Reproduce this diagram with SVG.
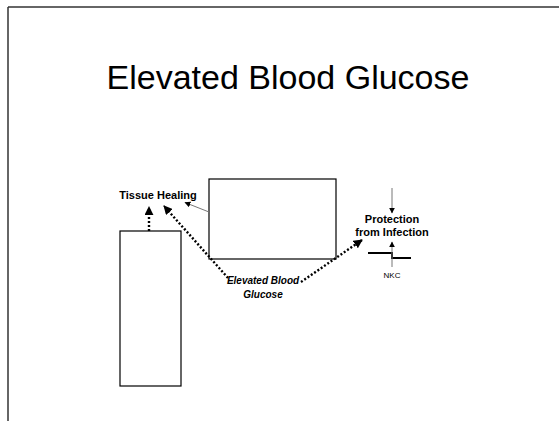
<svg xmlns="http://www.w3.org/2000/svg" width="559" height="421" viewBox="0 0 559 421">
<style>
.frame{stroke:#333;stroke-width:1.5;fill:none}
.box{fill:#fff;stroke:#000;stroke-width:1.2}
.dot{stroke:#000;stroke-width:2.4;stroke-dasharray:2 2;fill:none}
.thin{stroke:#777;stroke-width:1;fill:none}
.step{stroke:#000;stroke-width:2;fill:none}
.title{font-family:"Liberation Sans",Arial,sans-serif;font-size:34px;fill:#000}
.lbl{font-family:"Liberation Sans",Arial,sans-serif;font-size:11px;font-weight:bold;fill:#000}
.ebg{font-family:"Liberation Sans",Arial,sans-serif;font-size:10px;font-weight:bold;font-style:italic;fill:#000}
.small{font-family:"Liberation Sans",Arial,sans-serif;font-size:8px;fill:#000}
</style>
<defs>
<marker id="big" viewBox="0 0 10 10" refX="9" refY="5" markerWidth="9" markerHeight="9" markerUnits="userSpaceOnUse" orient="auto"><path d="M0,0 L10,5 L0,10 z" fill="#000"/></marker>
<marker id="sm" viewBox="0 0 10 10" refX="9" refY="5" markerWidth="6" markerHeight="6" markerUnits="userSpaceOnUse" orient="auto"><path d="M0,0 L10,5 L0,10 z" fill="#000"/></marker>
</defs>
<rect width="559" height="421" fill="#fff"/>
<g id="frame">
<line class="frame" x1="8" y1="7" x2="559" y2="7"/>
<line class="frame" x1="8" y1="7" x2="8" y2="421"/>
</g>
<g id="title"><text class="title" x="288" y="89" text-anchor="middle">Elevated Blood Glucose</text></g>
<g id="left-box"><rect class="box" x="120" y="231" width="61" height="155"/></g>
<g id="center-box"><rect class="box" x="209" y="179" width="127" height="80"/></g>
<g id="tissue-healing"><text class="lbl" x="158" y="199" text-anchor="middle">Tissue Healing</text></g>
<g id="elevated-blood-glucose">
<text class="ebg" x="263" y="284" text-anchor="middle">Elevated Blood</text>
<text class="ebg" x="263" y="298" text-anchor="middle">Glucose</text>
</g>
<g id="protection">
<text class="lbl" x="392" y="223" text-anchor="middle">Protection</text>
<text class="lbl" x="392" y="236" text-anchor="middle">from Infection</text>
</g>
<g id="nkc">
<path class="step" d="M368,253 H392 V258 H411"/>
<text class="small" x="392" y="278" text-anchor="middle">NKC</text>
</g>
<g id="connectors">
<line class="dot" x1="149" y1="231" x2="149" y2="207" marker-end="url(#big)"/>
<line class="dot" x1="228" y1="278" x2="164" y2="206" marker-end="url(#big)"/>
<line class="dot" x1="301" y1="282" x2="362" y2="240" marker-end="url(#big)"/>
<line class="thin" x1="209" y1="212" x2="185" y2="202.5" marker-end="url(#sm)"/>
<line class="thin" x1="392" y1="188" x2="392" y2="213" marker-end="url(#sm)"/>
<line class="thin" x1="392" y1="267" x2="392" y2="242" marker-end="url(#sm)"/>
</g>
</svg>
